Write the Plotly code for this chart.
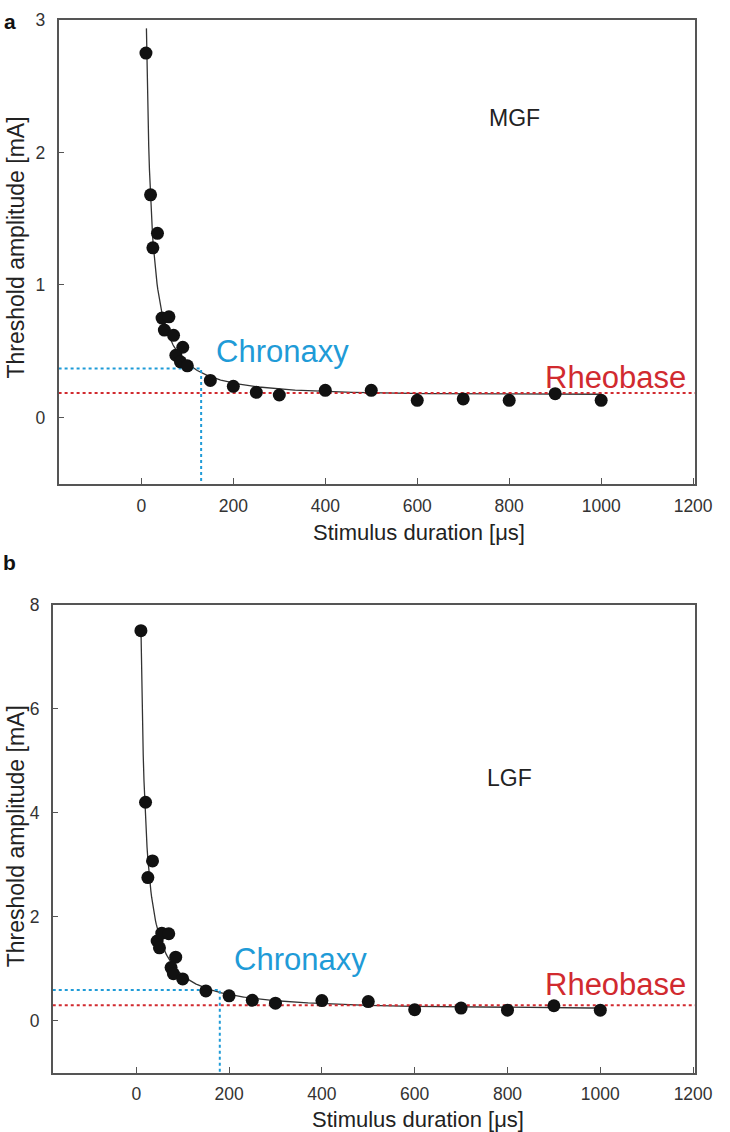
import numpy as np
import plotly.graph_objects as go

W, H = 730, 1132

# ---------------- data ----------------
# Panel a (MGF)
dur_a = [10, 20, 25, 35, 45, 60, 50, 70, 90, 75, 85, 100, 150, 200, 250, 300,
         400, 500, 600, 700, 800, 900, 1000]
amp_a = [2.75, 1.68, 1.28, 1.39, 0.75, 0.76, 0.66, 0.62, 0.53, 0.47, 0.42, 0.39,
         0.28, 0.235, 0.19, 0.17, 0.205, 0.205, 0.13, 0.14, 0.13, 0.18, 0.13]
rheobase_a = 0.185
chronaxie_a = 130
fit_a = dict(irh=0.175, tau=179.0, t0=11, t1=1000)

# Panel b (LGF)
dur_b = [10, 20, 25, 35, 45, 55, 70, 50, 85, 75, 80, 100, 150, 200, 250, 300,
         400, 500, 600, 700, 800, 900, 1000]
amp_b = [7.5, 4.2, 2.75, 3.07, 1.53, 1.68, 1.67, 1.40, 1.22, 1.02, 0.90, 0.80,
         0.57, 0.475, 0.39, 0.335, 0.385, 0.365, 0.21, 0.24, 0.20, 0.285, 0.20]
rheobase_b = 0.295
chronaxie_b = 180
fit_b = dict(irh=0.23, tau=325.0, t0=10, t1=1000)

x_range = [-180, 1205]
x_ticks = [0, 200, 400, 600, 800, 1000, 1200]
y_range_a = [-0.5, 3]
y_ticks_a = [0, 1, 2, 3]
y_range_b = [-1, 8]
y_ticks_b = [0, 2, 4, 6, 8]

BLUE = "#1f9bd7"
RED = "#d12a2f"
FONT = "Liberation Sans"


def lapicque(p):
    t = np.linspace(p["t0"], p["t1"], 600)
    return t, p["irh"] / (1 - np.exp(-t / p["tau"]))


fig = go.Figure()


def add_panel(xa, ya, dur, amp, rheo, chron, fit, yr):
    t, i = lapicque(fit)
    fig.add_trace(go.Scatter(x=t, y=i, mode="lines", xaxis=xa, yaxis=ya,
                             line=dict(color="#333333", width=1.3), showlegend=False))
    # rheobase (red dotted, full width)
    fig.add_trace(go.Scatter(x=[x_range[0], x_range[1]], y=[rheo, rheo], mode="lines",
                             xaxis=xa, yaxis=ya, line=dict(color=RED, width=2, dash="dot"),
                             showlegend=False))
    # chronaxie (blue dotted)
    fig.add_trace(go.Scatter(x=[x_range[0], chron, chron], y=[2 * rheo, 2 * rheo, yr[0]],
                             mode="lines", xaxis=xa, yaxis=ya,
                             line=dict(color=BLUE, width=2, dash="dot"), showlegend=False))
    fig.add_trace(go.Scatter(x=dur, y=amp, mode="markers", xaxis=xa, yaxis=ya,
                             marker=dict(color="#111111", size=13), showlegend=False))


add_panel("x", "y", dur_a, amp_a, rheobase_a, chronaxie_a, fit_a, y_range_a)
add_panel("x2", "y2", dur_b, amp_b, rheobase_b, chronaxie_b, fit_b, y_range_b)

axis_common = dict(showline=True, linecolor="#555555", linewidth=1.5, mirror=True,
                   ticks="inside", ticklen=6, tickwidth=1.2, tickcolor="#555555",
                   showgrid=False, zeroline=False,
                   tickfont=dict(family=FONT, size=17.5, color="#333333"))
x_common = dict(axis_common, ticklabelstandoff=5)
y_common = dict(axis_common, ticklabelstandoff=8)

fig.update_layout(
    width=W, height=H, margin=dict(l=0, r=0, t=0, b=0),
    paper_bgcolor="white", plot_bgcolor="white",
    xaxis=dict(domain=[60 / W, 712 / W], anchor="y", range=x_range, tickvals=x_ticks,
               **x_common),
    yaxis=dict(domain=[1 - 478 / H, 1 - 10 / H], anchor="x", range=y_range_a,
               tickvals=y_ticks_a, **y_common),
    xaxis2=dict(domain=[54 / W, 712 / W], anchor="y2", range=x_range, tickvals=x_ticks,
                **x_common),
    yaxis2=dict(domain=[1 - 1072 / H, 1 - 600 / H], anchor="x2", range=y_range_b,
                tickvals=y_ticks_b, **y_common),
)


def pann(text, x, y, size, color="#222222", angle=0, bold=False, xanchor="center"):
    fig.add_annotation(text=f"<b>{text}</b>" if bold else text, xref="paper", yref="paper",
                       x=x / W, y=1 - y / H, showarrow=False, textangle=angle,
                       xanchor=xanchor, yanchor="middle",
                       font=dict(family=FONT, size=size, color=color))


# axis titles
pann("Stimulus duration [μs]", 429, 527, 22)
pann("Stimulus duration [μs]", 428, 1119, 22)
pann("Threshold amplitude [mA]", 16, 240, 23, angle=-90)
pann("Threshold amplitude [mA]", 16, 834, 23, angle=-90)
pann("a", 10, 12, 21, color="#111111", bold=True)
pann("b", 10, 557, 21, color="#111111", bold=True)


# in-plot labels
def dann(text, x, y, xa, ya, size, color):
    fig.add_annotation(text=text, x=x, y=y, xref=xa, yref=ya, showarrow=False,
                       font=dict(family=FONT, size=size, color=color))


dann("MGF", 812, 2.26, "x", "y", 23, "#222222")
dann("LGF", 805, 4.66, "x2", "y2", 23, "#222222")
dann("Chronaxy", 306, 0.50, "x", "y", 31, BLUE)
dann("Chronaxy", 353, 1.17, "x2", "y2", 31, BLUE)
dann("Rheobase", 1031, 0.30, "x", "y", 31, RED)
dann("Rheobase", 1033, 0.69, "x2", "y2", 31, RED)

fig.write_html("out.html", config={"displayModeBar": False},
               post_script="document.body.style.margin='0';")
